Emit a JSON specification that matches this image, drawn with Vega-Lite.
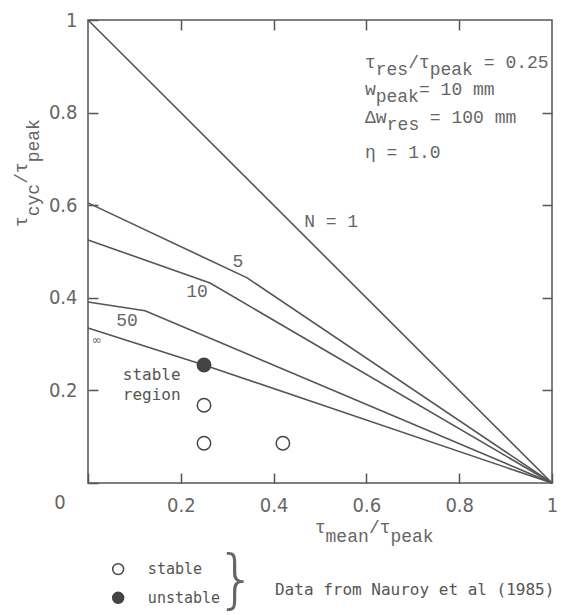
{
  "$schema": "https://vega.github.io/schema/vega-lite/v6.json",
  "width": 464,
  "height": 463,
  "autosize": {"type": "none"},
  "padding": {"left": 88, "top": 20, "right": 9, "bottom": 132},
  "background": "white",
  "config": {
    "view": {"stroke": "#555555", "strokeWidth": 1.5},
    "axis": {
      "domain": false,
      "grid": false,
      "tickColor": "#555555",
      "tickWidth": 1.5,
      "tickSize": 10,
      "offset": -10,
      "labelFont": "Liberation Sans Narrow, DejaVu Sans Condensed, sans-serif",
      "labelFontSize": 20,
      "labelColor": "#666666",
      "labelOverlap": false,
      "labelFlush": false
    }
  },
  "datasets": {
    "curves": [
      {"N": "1", "x": 0, "y": 1},
      {"N": "1", "x": 1, "y": 0},
      {"N": "5", "x": 0, "y": 0.605},
      {"N": "5", "x": 0.343, "y": 0.443},
      {"N": "5", "x": 1, "y": 0},
      {"N": "10", "x": 0, "y": 0.525},
      {"N": "10", "x": 0.263, "y": 0.432},
      {"N": "10", "x": 1, "y": 0},
      {"N": "50", "x": 0, "y": 0.391},
      {"N": "50", "x": 0.123, "y": 0.372},
      {"N": "50", "x": 1, "y": 0},
      {"N": "inf", "x": 0, "y": 0.335},
      {"N": "inf", "x": 0.25, "y": 0.255},
      {"N": "inf", "x": 1, "y": 0}
    ],
    "points": [
      {"x": 0.25, "y": 0.255, "status": "unstable"},
      {"x": 0.25, "y": 0.168, "status": "stable"},
      {"x": 0.25, "y": 0.086, "status": "stable"},
      {"x": 0.42, "y": 0.086, "status": "stable"}
    ],
    "curveLabels": [
      {"x": 0.524, "y": 0.564, "label": "N = 1"},
      {"x": 0.323, "y": 0.477, "label": "5"},
      {"x": 0.235, "y": 0.413, "label": "10"},
      {"x": 0.084, "y": 0.35, "label": "50"}
    ],
    "infLabel": [{"x": 0.019, "y": 0.309, "label": "∞"}],
    "region": [
      {"x": 0.075, "y": 0.233, "label": "stable"},
      {"x": 0.075, "y": 0.19, "label": "region"}
    ],
    "paramsMain": [
      {"x": 0.597, "y": 0.907, "label": "τ\u00a0\u00a0\u00a0/τ\u00a0\u00a0\u00a0\u00a0\u00a0= 0.25"},
      {"x": 0.597, "y": 0.849, "label": "w\u00a0\u00a0\u00a0\u00a0= 10 mm"},
      {"x": 0.597, "y": 0.788, "label": "Δw\u00a0\u00a0\u00a0\u00a0= 100 mm"},
      {"x": 0.597, "y": 0.713, "label": "η = 1.0"}
    ],
    "paramsSub": [
      {"x": 0.62, "y": 0.907, "label": "res\u00a0\u00a0peak"},
      {"x": 0.62, "y": 0.849, "label": "peak"},
      {"x": 0.644, "y": 0.788, "label": "res"}
    ],
    "xtitleMain": [{"x": 0.489, "y": -0.097, "label": "τ\u00a0\u00a0\u00a0\u00a0/τ"}],
    "xtitleSub": [{"x": 0.512, "y": -0.097, "label": "mean\u00a0\u00a0peak"}],
    "ytitleMain": [{"x": -0.142, "y": 0.553, "label": "τ\u00a0\u00a0\u00a0/τ"}],
    "ytitleSub": [{"x": -0.142, "y": 0.576, "label": "cyc\u00a0\u00a0peak"}],
    "corner": [{"x": 0, "y": 0, "label": "0"}],
    "legendPts": [
      {"x": 0.065, "y": -0.186, "status": "stable"},
      {"x": 0.065, "y": -0.248, "status": "unstable"}
    ],
    "legendText": [
      {"x": 0.129, "y": -0.186, "label": "stable"},
      {"x": 0.129, "y": -0.248, "label": "unstable"}
    ],
    "brace": [{"x": 0.32, "y": -0.214, "label": "}"}],
    "source": [{"x": 0.403, "y": -0.231, "label": "Data from Nauroy et al (1985)"}]
  },
  "resolve": {"axis": {"x": "independent", "y": "independent"}},
  "layer": [
    {
      "data": {"name": "curves"},
      "mark": {"type": "line", "color": "#555555", "strokeWidth": 1.6},
      "encoding": {
        "x": {
          "field": "x", "type": "quantitative",
          "scale": {"domain": [0, 1], "nice": false, "zero": false},
          "axis": {"orient": "bottom", "values": [0, 0.2, 0.4, 0.6, 0.8, 1], "format": "~g",
                   "labelExpr": "datum.value == 0 ? '' : datum.label", "labelPadding": 12, "title": null}
        },
        "y": {
          "field": "y", "type": "quantitative",
          "scale": {"domain": [0, 1], "nice": false, "zero": false},
          "axis": {"orient": "left", "values": [0, 0.2, 0.4, 0.6, 0.8, 1], "format": "~g",
                   "labelExpr": "datum.value == 0 ? '' : datum.label", "labelPadding": 11, "title": null}
        },
        "detail": {"field": "N"}
      }
    },
    {
      "data": {"name": "points"},
      "mark": {"type": "point", "shape": "circle", "size": 180, "stroke": "#444444", "strokeWidth": 1.5, "opacity": 1},
      "encoding": {
        "x": {"field": "x", "type": "quantitative",
              "axis": {"orient": "top", "values": [0.2, 0.4, 0.6, 0.8], "labels": false, "title": null}},
        "y": {"field": "y", "type": "quantitative",
              "axis": {"orient": "right", "values": [0.2, 0.4, 0.6, 0.8], "labels": false, "title": null}},
        "fill": {"field": "status", "type": "nominal",
                 "scale": {"domain": ["stable", "unstable"], "range": ["#ffffff", "#444444"]}, "legend": null}
      }
    },
    {
      "data": {"name": "curveLabels"},
      "mark": {"type": "text", "font": "Liberation Mono", "fontSize": 18, "color": "#666666", "align": "center", "baseline": "middle"},
      "encoding": {
        "x": {"field": "x", "type": "quantitative", "axis": null},
        "y": {"field": "y", "type": "quantitative", "axis": null},
        "text": {"field": "label"}
      }
    },
    {
      "data": {"name": "infLabel"},
      "mark": {"type": "text", "font": "DejaVu Sans", "fontSize": 12, "color": "#666666", "align": "center", "baseline": "middle"},
      "encoding": {
        "x": {"field": "x", "type": "quantitative", "axis": null},
        "y": {"field": "y", "type": "quantitative", "axis": null},
        "text": {"field": "label"}
      }
    },
    {
      "data": {"name": "region"},
      "mark": {"type": "text", "font": "DejaVu Sans Mono", "fontSize": 16, "color": "#555555", "align": "left", "baseline": "middle"},
      "encoding": {
        "x": {"field": "x", "type": "quantitative", "axis": null},
        "y": {"field": "y", "type": "quantitative", "axis": null},
        "text": {"field": "label"}
      }
    },
    {
      "data": {"name": "paramsMain"},
      "mark": {"type": "text", "font": "Liberation Mono", "fontSize": 18, "color": "#666666", "align": "left", "baseline": "middle"},
      "encoding": {
        "x": {"field": "x", "type": "quantitative", "axis": null},
        "y": {"field": "y", "type": "quantitative", "axis": null},
        "text": {"field": "label"}
      }
    },
    {
      "data": {"name": "paramsSub"},
      "mark": {"type": "text", "font": "Liberation Mono", "fontSize": 18, "color": "#666666", "align": "left", "baseline": "middle", "dy": 7},
      "encoding": {
        "x": {"field": "x", "type": "quantitative", "axis": null},
        "y": {"field": "y", "type": "quantitative", "axis": null},
        "text": {"field": "label"}
      }
    },
    {
      "data": {"name": "xtitleMain"},
      "mark": {"type": "text", "font": "Liberation Mono", "fontSize": 18, "color": "#666666", "align": "left", "baseline": "middle"},
      "encoding": {
        "x": {"field": "x", "type": "quantitative", "axis": null},
        "y": {"field": "y", "type": "quantitative", "axis": null},
        "text": {"field": "label"}
      }
    },
    {
      "data": {"name": "xtitleSub"},
      "mark": {"type": "text", "font": "Liberation Mono", "fontSize": 18, "color": "#666666", "align": "left", "baseline": "middle", "dy": 9},
      "encoding": {
        "x": {"field": "x", "type": "quantitative", "axis": null},
        "y": {"field": "y", "type": "quantitative", "axis": null},
        "text": {"field": "label"}
      }
    },
    {
      "data": {"name": "ytitleMain"},
      "mark": {"type": "text", "font": "Liberation Mono", "fontSize": 18, "color": "#666666", "align": "left", "baseline": "middle", "angle": 270},
      "encoding": {
        "x": {"field": "x", "type": "quantitative", "axis": null},
        "y": {"field": "y", "type": "quantitative", "axis": null},
        "text": {"field": "label"}
      }
    },
    {
      "data": {"name": "ytitleSub"},
      "mark": {"type": "text", "font": "Liberation Mono", "fontSize": 18, "color": "#666666", "align": "left", "baseline": "middle", "angle": 270, "dy": 12},
      "encoding": {
        "x": {"field": "x", "type": "quantitative", "axis": null},
        "y": {"field": "y", "type": "quantitative", "axis": null},
        "text": {"field": "label"}
      }
    },
    {
      "data": {"name": "corner"},
      "mark": {"type": "text", "font": "Liberation Sans Narrow, DejaVu Sans Condensed, sans-serif", "fontSize": 20, "color": "#666666", "align": "center", "baseline": "middle", "dx": -28, "dy": 20},
      "encoding": {
        "x": {"field": "x", "type": "quantitative", "axis": null},
        "y": {"field": "y", "type": "quantitative", "axis": null},
        "text": {"field": "label"}
      }
    },
    {
      "data": {"name": "legendPts"},
      "mark": {"type": "point", "shape": "circle", "size": 120, "stroke": "#444444", "strokeWidth": 1.5, "opacity": 1},
      "encoding": {
        "x": {"field": "x", "type": "quantitative", "axis": null},
        "y": {"field": "y", "type": "quantitative", "axis": null},
        "fill": {"field": "status", "type": "nominal",
                 "scale": {"domain": ["stable", "unstable"], "range": ["#ffffff", "#444444"]}, "legend": null}
      }
    },
    {
      "data": {"name": "legendText"},
      "mark": {"type": "text", "font": "DejaVu Sans Mono", "fontSize": 15, "color": "#555555", "align": "left", "baseline": "middle"},
      "encoding": {
        "x": {"field": "x", "type": "quantitative", "axis": null},
        "y": {"field": "y", "type": "quantitative", "axis": null},
        "text": {"field": "label"}
      }
    },
    {
      "data": {"name": "brace"},
      "mark": {"type": "text", "font": "DejaVu Sans", "fontWeight": 200, "fontSize": 64, "color": "#666666", "align": "center", "baseline": "middle"},
      "encoding": {
        "x": {"field": "x", "type": "quantitative", "axis": null},
        "y": {"field": "y", "type": "quantitative", "axis": null},
        "text": {"field": "label"}
      }
    },
    {
      "data": {"name": "source"},
      "mark": {"type": "text", "font": "DejaVu Sans Mono", "fontSize": 16, "color": "#555555", "align": "left", "baseline": "middle"},
      "encoding": {
        "x": {"field": "x", "type": "quantitative", "axis": null},
        "y": {"field": "y", "type": "quantitative", "axis": null},
        "text": {"field": "label"}
      }
    }
  ]
}
